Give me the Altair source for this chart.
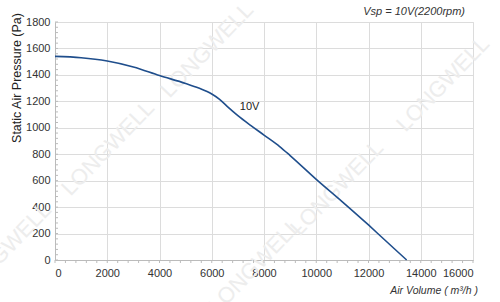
import altair as alt
import pandas as pd

# curve data
air_volume = [0, 1000, 2000, 3000, 4000, 5000, 5500, 6000, 6300, 6600, 7000, 7500, 8000, 8600, 9000, 10000, 11000, 12000, 12500, 13000, 13460]
pressure = [1540, 1530, 1505, 1460, 1395, 1335, 1300, 1255, 1215, 1160, 1092, 1017, 945, 858, 790, 610, 440, 265, 174, 83, 0]

x_ticks = [0, 2000, 4000, 6000, 8000, 10000, 12000, 14000, 16000]
y_ticks = [0, 200, 400, 600, 800, 1000, 1200, 1400, 1600, 1800]
x_minor = list(range(0, 16001, 400))
y_minor = list(range(0, 1801, 40))

series_label = "10V"
label_x, label_y = 7450, 1160
chart_title = "Vsp = 10V(2200rpm)"
x_title = "Air Volume ( m³/h )"
y_title = "Static Air Pressure  (Pa)"
watermark = "LONGWELL"

W, H = 418, 238
FONT = "Liberation Sans"

df = pd.DataFrame({"q": air_volume, "p": pressure})
one = pd.DataFrame({"k": [0]})

xs = alt.Scale(domain=[0, 16000], nice=False)
ys = alt.Scale(domain=[0, 1800], nice=False)

xa = alt.Axis(values=x_ticks, title=None, grid=True, gridColor="#dcdcdc", domainColor="#bbbbbb",
              tickSize=0, labelPadding=7, format="d", labelOverlap=False, labelFont=FONT,
              labelFontSize=11, labelColor="#333")
ya = alt.Axis(values=y_ticks, title=None, grid=True, gridColor="#dcdcdc", domainColor="#bbbbbb",
              tickSize=0, labelPadding=5, format="d", labelOverlap=False, labelFont=FONT,
              labelFontSize=11, labelColor="#333")

axes = alt.Chart(df).mark_line(opacity=0).encode(
    x=alt.X("q:Q", scale=xs, axis=xa), y=alt.Y("p:Q", scale=ys, axis=ya)
)

line = alt.Chart(df).mark_line(color="#1f4e8c", strokeWidth=1.6, interpolate="monotone").encode(
    x=alt.X("q:Q", scale=xs, axis=xa), y=alt.Y("p:Q", scale=ys, axis=ya)
)

xminor = alt.Chart(pd.DataFrame({"v": x_minor})).mark_rule(color="#bbbbbb", strokeWidth=1).encode(
    x=alt.X("v:Q", scale=xs, axis=xa), y=alt.value(H), y2=alt.value(H + 3)
)
yminor = alt.Chart(pd.DataFrame({"v": y_minor})).mark_rule(color="#bbbbbb", strokeWidth=1).encode(
    y=alt.Y("v:Q", scale=ys, axis=ya), x=alt.value(0), x2=alt.value(3)
)

wm_pos = [(152, 28), (53, 126), (282, 166), (388, 62), (-50, 228), (200, 244)]
wm = alt.layer(*[
    alt.Chart(one).mark_text(text=watermark, font=FONT, fontSize=22, angle=314, color="#ededed",
                             align="center", baseline="middle").encode(x=alt.value(px), y=alt.value(py))
    for px, py in wm_pos
])

lbl = alt.Chart(pd.DataFrame({"q": [label_x], "p": [label_y], "t": [series_label]})).mark_text(
    font=FONT, fontSize=11, color="#222", align="center", baseline="middle"
).encode(x=alt.X("q:Q", scale=xs, axis=xa), y=alt.Y("p:Q", scale=ys, axis=ya), text="t:N")

texts = alt.layer(
    alt.Chart(one).mark_text(text=chart_title, font=FONT, fontSize=11, fontStyle="italic", color="#333",
                             align="right", baseline="middle").encode(x=alt.value(410), y=alt.value(-10)),
    alt.Chart(one).mark_text(text=x_title, font=FONT, fontSize=10.5, fontStyle="italic", color="#333",
                             align="right", baseline="middle").encode(x=alt.value(423), y=alt.value(269)),
    alt.Chart(one).mark_text(text=y_title, font=FONT, fontSize=12.5, color="#222", angle=270,
                             align="center", baseline="middle").encode(x=alt.value(-38), y=alt.value(56)),
)

chart = alt.layer(axes, wm, xminor, yminor, line, lbl, texts).properties(
    width=W, height=H,
    padding={"left": 55, "top": 22, "right": 27, "bottom": 42},
    autosize=alt.AutoSizeParams(type="none"),
).configure_view(stroke=None).configure(background="white")

chart.save("out.html", embed_options={"renderer": "svg", "actions": False})
